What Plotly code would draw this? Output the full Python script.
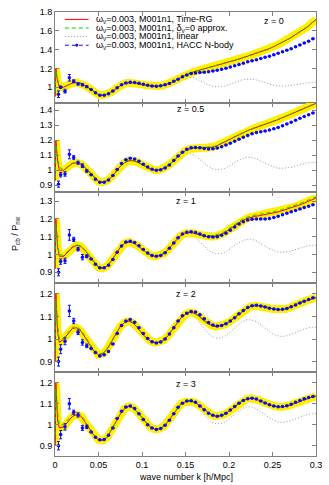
import plotly.graph_objects as go
from plotly.subplots import make_subplots

##========[ DATA ]========##
# k grid of the smooth curves [h/Mpc]
k_curve = [0.0003, 0.001, 0.003, 0.005, 0.01, 0.015, 0.02, 0.025, 0.03, 0.035, 0.04, 0.045,
           0.05, 0.055, 0.06, 0.065, 0.07, 0.075, 0.08, 0.085, 0.09, 0.095, 0.1, 0.105,
           0.11, 0.115, 0.12, 0.125, 0.13, 0.135, 0.14, 0.145, 0.15, 0.155, 0.16, 0.165,
           0.17, 0.175, 0.18, 0.185, 0.19, 0.195, 0.2, 0.205, 0.21, 0.215, 0.22, 0.225,
           0.23, 0.235, 0.24, 0.245, 0.25, 0.255, 0.26, 0.265, 0.27, 0.275, 0.28, 0.285,
           0.29, 0.295, 0.3]
k_linear = k_curve[3:]

# N-body bins
k_nbody = [0.004, 0.0065, 0.0115, 0.0165, 0.0215, 0.0265, 0.0315, 0.0365, 0.0415, 0.0465,
           0.0515, 0.0565, 0.0615, 0.0665, 0.0715, 0.0765, 0.0815, 0.0865, 0.0915, 0.0965,
           0.1015, 0.1065, 0.1115, 0.1165, 0.1215, 0.1265, 0.1315, 0.1365, 0.1415, 0.1465,
           0.1515, 0.1565, 0.1615, 0.1665, 0.1715, 0.1765, 0.1815, 0.1865, 0.1915, 0.1965,
           0.2015, 0.2065, 0.2115, 0.2165, 0.2215, 0.2265, 0.2315, 0.2365, 0.2415, 0.2465,
           0.2515, 0.2565, 0.2615, 0.2665, 0.2715, 0.2765, 0.2815, 0.2865, 0.2915, 0.2965]

redshifts = ["z = 0", "z = 0.5", "z = 1", "z = 2", "z = 3"]

linear = [1.0, 1.01, 1.035, 1.05, 1.05, 1.03, 1.0, 0.965, 0.935, 0.922, 0.93, 0.955, 0.99, 1.03,
          1.06, 1.08, 1.085, 1.075, 1.055, 1.03, 1.005, 0.99, 0.982, 0.982, 0.99, 1.01, 1.04,
          1.07, 1.095, 1.108, 1.11, 1.1, 1.08, 1.055, 1.03, 1.012, 1.005, 1.005, 1.012, 1.027,
          1.045, 1.063, 1.077, 1.085, 1.086, 1.08, 1.068, 1.052, 1.037, 1.024, 1.015, 1.012,
          1.013, 1.018, 1.026, 1.035, 1.043, 1.049, 1.052, 1.053]

timerg_z0 = [0.90, 1.20, 1.06, 1.00, 1.00, 1.025, 1.045, 1.05, 1.04, 1.015, 0.985, 0.95, 0.92,
             0.912, 0.925, 0.95, 0.985, 1.015, 1.037, 1.046, 1.046, 1.04, 1.03, 1.02, 1.012,
             1.01, 1.012, 1.02, 1.035, 1.055, 1.08, 1.105, 1.13, 1.15, 1.165, 1.178, 1.19, 1.2,
             1.21, 1.222, 1.235, 1.25, 1.265, 1.28, 1.295, 1.31, 1.325, 1.34, 1.355, 1.37, 1.386,
             1.405, 1.425, 1.447, 1.47, 1.495, 1.52, 1.55, 1.578, 1.61, 1.64, 1.68, 1.72]
timerg_z05 = [0.93, 1.20, 1.06, 1.0, 1.0, 1.025, 1.045, 1.05, 1.04, 1.015, 0.985, 0.95, 0.925,
              0.92, 0.93, 0.955, 0.99, 1.025, 1.05, 1.063, 1.063, 1.053, 1.037, 1.02, 1.006, 1.0,
              1.002, 1.012, 1.03, 1.055, 1.085, 1.11, 1.13, 1.142, 1.148, 1.15, 1.15, 1.15, 1.153,
              1.16, 1.175, 1.19, 1.205, 1.22, 1.235, 1.248, 1.26, 1.272, 1.282, 1.291, 1.30,
              1.311, 1.322, 1.334, 1.346, 1.358, 1.37, 1.382, 1.394, 1.406, 1.418, 1.431, 1.445]
timerg_z1 = [0.92, 1.20, 1.04, 0.99, 0.99, 1.015, 1.04, 1.052, 1.045, 1.02, 0.99, 0.955, 0.927,
             0.922, 0.935, 0.965, 1.005, 1.04, 1.063, 1.07, 1.065, 1.05, 1.03, 1.01, 0.995, 0.99,
             0.993, 1.005, 1.027, 1.055, 1.085, 1.108, 1.12, 1.123, 1.12, 1.112, 1.105, 1.1, 1.1,
             1.103, 1.11, 1.123, 1.14, 1.158, 1.175, 1.19, 1.202, 1.21, 1.215, 1.219, 1.223,
             1.227, 1.232, 1.238, 1.245, 1.252, 1.26, 1.268, 1.277, 1.286, 1.296, 1.307, 1.318]
timerg_z2 = [0.90, 1.20, 1.03, 0.985, 1.0, 1.025, 1.047, 1.05, 1.035, 1.005, 0.975, 0.945, 0.93,
             0.935, 0.955, 0.99, 1.025, 1.055, 1.073, 1.08, 1.07, 1.05, 1.025, 1.005, 0.99, 0.983,
             0.985, 0.995, 1.015, 1.04, 1.07, 1.095, 1.11, 1.118, 1.115, 1.103, 1.085, 1.07, 1.06,
             1.055, 1.058, 1.065, 1.075, 1.09, 1.105, 1.12, 1.135, 1.145, 1.148, 1.147, 1.143,
             1.138, 1.133, 1.13, 1.13, 1.133, 1.14, 1.15, 1.158, 1.165, 1.172, 1.178, 1.183]
timerg_z3 = [0.90, 1.20, 1.02, 0.985, 0.99, 1.015, 1.04, 1.048, 1.04, 1.01, 0.98, 0.948, 0.928,
             0.925, 0.94, 0.975, 1.015, 1.05, 1.077, 1.088, 1.08, 1.06, 1.035, 1.008, 0.988,
             0.978, 0.98, 0.993, 1.015, 1.045, 1.075, 1.1, 1.11, 1.113, 1.108, 1.095, 1.077, 1.06,
             1.047, 1.041, 1.042, 1.05, 1.063, 1.08, 1.097, 1.112, 1.122, 1.126, 1.124, 1.117,
             1.107, 1.097, 1.09, 1.086, 1.085, 1.087, 1.093, 1.101, 1.11, 1.118, 1.125, 1.131, 1.136]

approx_z0 = [0.95, 1.17, 1.08, 1.02, 1.0, 1.027, 1.047, 1.052, 1.042, 1.017, 0.987, 0.952, 0.922,
             0.914, 0.927, 0.952, 0.987, 1.017, 1.039, 1.048, 1.048, 1.042, 1.032, 1.022, 1.014,
             1.012, 1.014, 1.022, 1.037, 1.057, 1.082, 1.107, 1.132, 1.152, 1.167, 1.18, 1.192,
             1.202, 1.212, 1.224, 1.237, 1.252, 1.267, 1.282, 1.297, 1.312, 1.327, 1.342, 1.357,
             1.372, 1.388, 1.407, 1.427, 1.449, 1.472, 1.497, 1.522, 1.552, 1.58, 1.612, 1.642,
             1.682, 1.722]
approx_z05 = [0.95, 1.17, 1.08, 1.02, 1.002, 1.027, 1.047, 1.052, 1.042, 1.017, 0.987, 0.952,
              0.927, 0.922, 0.932, 0.957, 0.992, 1.027, 1.052, 1.065, 1.065, 1.055, 1.039, 1.022,
              1.008, 1.002, 1.004, 1.014, 1.032, 1.057, 1.087, 1.112, 1.132, 1.144, 1.15, 1.152,
              1.152, 1.152, 1.155, 1.162, 1.177, 1.192, 1.207, 1.222, 1.237, 1.25, 1.262, 1.274,
              1.284, 1.293, 1.302, 1.313, 1.324, 1.336, 1.348, 1.36, 1.372, 1.384, 1.396, 1.408,
              1.42, 1.433, 1.447]
approx_z1 = [0.95, 1.17, 1.06, 1.0, 0.995, 1.02, 1.045, 1.055, 1.048, 1.023, 0.993, 0.958, 0.93,
             0.925, 0.938, 0.968, 1.008, 1.043, 1.066, 1.073, 1.068, 1.053, 1.033, 1.013, 0.998,
             0.993, 0.996, 1.008, 1.03, 1.058, 1.088, 1.111, 1.123, 1.126, 1.124, 1.117, 1.11,
             1.106, 1.106, 1.11, 1.117, 1.13, 1.147, 1.165, 1.182, 1.197, 1.209, 1.217, 1.222,
             1.226, 1.23, 1.234, 1.239, 1.245, 1.252, 1.259, 1.267, 1.275, 1.284, 1.293, 1.303,
             1.314, 1.325]
approx_z2 = [0.95, 1.17, 1.06, 1.0, 1.005, 1.03, 1.052, 1.055, 1.04, 1.01, 0.978, 0.948, 0.933,
             0.938, 0.958, 0.993, 1.028, 1.058, 1.076, 1.083, 1.073, 1.053, 1.028, 1.008, 0.993,
             0.986, 0.988, 0.998, 1.018, 1.043, 1.073, 1.098, 1.113, 1.121, 1.118, 1.106, 1.088,
             1.073, 1.063, 1.058, 1.061, 1.068, 1.078, 1.093, 1.108, 1.123, 1.138, 1.148, 1.151,
             1.15, 1.146, 1.141, 1.136, 1.133, 1.133, 1.136, 1.143, 1.153, 1.161, 1.168, 1.175,
             1.181, 1.186]
approx_z3 = [0.95, 1.17, 1.06, 1.0, 1.0, 1.025, 1.05, 1.056, 1.046, 1.014, 0.983, 0.951, 0.93,
             0.927, 0.942, 0.977, 1.017, 1.052, 1.079, 1.09, 1.082, 1.062, 1.037, 1.01, 0.99,
             0.98, 0.982, 0.995, 1.017, 1.047, 1.077, 1.102, 1.112, 1.115, 1.11, 1.097, 1.079,
             1.062, 1.049, 1.043, 1.044, 1.052, 1.065, 1.082, 1.099, 1.114, 1.124, 1.128, 1.126,
             1.119, 1.109, 1.099, 1.092, 1.088, 1.087, 1.089, 1.095, 1.103, 1.112, 1.12, 1.127,
             1.133, 1.138]

nbody_z0 = [0.925, 1.0, 0.958, 1.10, 1.063, 1.035, 1.025, 1.005, 0.975, 0.94, 0.915, 0.915, 0.93,
            0.96, 0.995, 1.025, 1.045, 1.052, 1.05, 1.042, 1.03, 1.02, 1.013, 1.01, 1.015, 1.025,
            1.04, 1.062, 1.085, 1.11, 1.13, 1.145, 1.152, 1.157, 1.16, 1.165, 1.172, 1.18, 1.19,
            1.202, 1.215, 1.228, 1.242, 1.256, 1.27, 1.282, 1.293, 1.305, 1.318, 1.33, 1.344,
            1.36, 1.376, 1.393, 1.41, 1.43, 1.45, 1.47, 1.49, 1.515]
nbody_z05 = [0.907, 0.97, 0.975, 1.106, 1.085, 1.05, 1.03, 0.995, 0.97, 0.94, 0.92, 0.92, 0.935,
             0.965, 1.005, 1.045, 1.07, 1.08, 1.075, 1.06, 1.04, 1.022, 1.007, 1.0, 1.003, 1.015,
             1.035, 1.065, 1.095, 1.12, 1.14, 1.15, 1.152, 1.15, 1.145, 1.142, 1.143, 1.148,
             1.157, 1.168, 1.18, 1.193, 1.207, 1.22, 1.232, 1.243, 1.251, 1.257, 1.262, 1.268,
             1.276, 1.285, 1.296, 1.308, 1.32, 1.333, 1.346, 1.358, 1.37, 1.382]
nbody_z1 = [0.9, 0.96, 0.965, 1.11, 1.085, 1.03, 0.985, 0.99, 0.975, 0.945, 0.925, 0.925, 0.94,
            0.972, 1.013, 1.048, 1.07, 1.075, 1.068, 1.05, 1.028, 1.008, 0.995, 0.99, 0.995, 1.01,
            1.035, 1.065, 1.095, 1.115, 1.125, 1.128, 1.124, 1.115, 1.106, 1.1, 1.098, 1.1, 1.108,
            1.12, 1.137, 1.155, 1.172, 1.185, 1.194, 1.198, 1.2, 1.2, 1.2, 1.203, 1.208, 1.216,
            1.224, 1.232, 1.24, 1.248, 1.256, 1.264, 1.272, 1.28]
nbody_z2 = [0.90, 0.955, 0.99, 1.125, 1.08, 1.03, 0.985, 0.97, 0.958, 0.94, 0.925, 0.93, 0.945,
            0.978, 1.025, 1.06, 1.08, 1.087, 1.075, 1.05, 1.025, 1.003, 0.988, 0.983, 0.987, 1.0,
            1.022, 1.05, 1.08, 1.103, 1.115, 1.122, 1.12, 1.108, 1.09, 1.073, 1.062, 1.058, 1.06,
            1.068, 1.08, 1.095, 1.112, 1.127, 1.14, 1.148, 1.15, 1.147, 1.142, 1.137, 1.133,
            1.131, 1.132, 1.136, 1.143, 1.151, 1.16, 1.168, 1.176, 1.183]
nbody_z3 = [0.90, 0.953, 0.99, 1.10, 1.06, 1.047, 0.985, 0.99, 0.965, 0.94, 0.928, 0.93, 0.95,
            0.985, 1.03, 1.065, 1.085, 1.09, 1.078, 1.052, 1.025, 1.0, 0.985, 0.978, 0.982, 0.998,
            1.022, 1.053, 1.083, 1.103, 1.113, 1.115, 1.107, 1.09, 1.072, 1.055, 1.045, 1.041,
            1.045, 1.055, 1.07, 1.087, 1.103, 1.116, 1.124, 1.127, 1.123, 1.114, 1.104, 1.095,
            1.089, 1.086, 1.087, 1.091, 1.098, 1.107, 1.116, 1.124, 1.13, 1.135]

# error bars of the lowest N-body bins (the rest are smaller than the points)
nbody_err_z0 = [0.035, 0.01, 0.02, 0.035, 0.015, 0.01, 0.01, 0.008]
nbody_err_z05 = [0.02, 0.015, 0.015, 0.03, 0.012, 0.01, 0.012, 0.008]
nbody_err_z1 = [0.02, 0.015, 0.015, 0.03, 0.012, 0.01, 0.015, 0.008]
nbody_err_z2 = [0.02, 0.02, 0.015, 0.025, 0.012, 0.01, 0.012, 0.008]
nbody_err_z3 = [0.02, 0.02, 0.015, 0.025, 0.01, 0.01, 0.012, 0.008]

timerg = [timerg_z0, timerg_z05, timerg_z1, timerg_z2, timerg_z3]
approx = [approx_z0, approx_z05, approx_z1, approx_z2, approx_z3]
nbody = [nbody_z0, nbody_z05, nbody_z1, nbody_z2, nbody_z3]
nbody_err = [nbody_err_z0, nbody_err_z05, nbody_err_z1, nbody_err_z2, nbody_err_z3]

legend_labels = ["ω<sub>ν</sub>=0.003, M001n1, Time-RG",
                 "ω<sub>ν</sub>=0.003, M001n1, δ<sub>ν</sub>=0 approx.",
                 "ω<sub>ν</sub>=0.003, M001n1, linear",
                 "ω<sub>ν</sub>=0.003, M001n1, HACC N-body"]

##========[ STYLE ]========##
FONT = "Liberation Sans, Arial, sans-serif"
RED, GREEN, GRAY, BLUE, YELLOW = "#ff0000", "#00d000", "#999999", "#0a0aff", "#fff000"
FRAME = "#808080"

W, H = 329, 485
L, R, T, B = 55, 10, 7, 29
# panel pixel borders (top of each panel, then bottom of last)
borders = [7, 99, 189, 281, 371, 456]
yranges = [[0.832, 1.8], [0.855, 1.448], [0.84, 1.352], [0.854, 1.249], [0.851, 1.252]]
ydticks = [0.2, 0.1, 0.1, 0.1, 0.1]
zlabel_pos = [(277, 16), (192, 105), (187, 198), (187, 292), (187, 383)]


def px(x):  # pixel -> paper x
	return (x - L) / (W - L - R)


def py(y):  # pixel -> paper y
	return (borders[-1] - y) / (borders[-1] - borders[0])


fig = make_subplots(rows=5, cols=1, shared_xaxes=True, vertical_spacing=0)

for i in range(5):
	row = i + 1
	# linear theory
	fig.add_trace(go.Scatter(x=k_linear, y=linear, mode="lines",
	                         line=dict(color=GRAY, width=1, dash="1px,2px"), showlegend=False), row=row, col=1)
	# Time-RG error band
	fig.add_trace(go.Scatter(x=k_curve, y=timerg[i], mode="lines",
	                         line=dict(color=YELLOW, width=8), showlegend=False), row=row, col=1)
	fig.add_trace(go.Scatter(x=k_curve, y=timerg[i], mode="lines",
	                         line=dict(color=RED, width=1), showlegend=False), row=row, col=1)
	fig.add_trace(go.Scatter(x=k_curve, y=approx[i], mode="lines",
	                         line=dict(color=GREEN, width=1, dash="4px,3px"), showlegend=False), row=row, col=1)
	err = nbody_err[i] + [None] * (len(nbody[i]) - len(nbody_err[i]))
	fig.add_trace(go.Scatter(x=k_nbody, y=nbody[i], mode="markers",
	                         marker=dict(color=BLUE, size=3.5, symbol="circle"),
	                         error_y=dict(type="data", array=err, color=BLUE, thickness=1, width=1.5),
	                         showlegend=False), row=row, col=1)

	top, bot = borders[i], borders[i + 1]
	fig.update_yaxes(row=row, col=1, domain=[py(bot), py(top)], range=yranges[i],
	                 dtick=ydticks[i], tick0=0, ticks="inside", ticklen=4, tickcolor=FRAME,
	                 showline=True, linecolor=FRAME, linewidth=1, mirror="ticks",
	                 showgrid=False, zeroline=False,
	                 tickfont=dict(family=FONT, size=9, color="#000"))
	fig.update_xaxes(row=row, col=1, range=[0, 0.3], dtick=0.05, tick0=0,
	                 ticks="inside", ticklen=4, tickcolor=FRAME,
	                 showline=True, linecolor=FRAME, linewidth=1, mirror="ticks",
	                 showgrid=False, zeroline=False,
	                 tickfont=dict(family=FONT, size=9, color="#000"))

	zx, zy = zlabel_pos[i]
	fig.add_annotation(x=px(zx), y=py(zy), xref="paper", yref="paper", text=redshifts[i],
	                   showarrow=False, xanchor="center", yanchor="middle",
	                   font=dict(family=FONT, size=9, color="#000"))

# hand-made legend (gnuplot key is tighter than plotly's)
rows_y = [14.5, 23.2, 31.9, 40.6]
samples = [dict(color=RED, width=1), dict(color=GREEN, width=1, dash="4px,3px"),
           dict(color=GRAY, width=1, dash="1px,2px"), dict(color=BLUE, width=1, dash="4px,3px")]
for j in range(4):
	fig.add_shape(type="line", xref="paper", yref="paper", x0=px(65), x1=px(89),
	              y0=py(rows_y[j]), y1=py(rows_y[j]), line=samples[j])
	fig.add_annotation(x=px(95), y=py(rows_y[j]), xref="paper", yref="paper", text=legend_labels[j],
	                   showarrow=False, xanchor="left", yanchor="middle", borderpad=0,
	                   font=dict(family=FONT, size=9, color="#000"))
fig.add_shape(type="circle", xref="paper", yref="paper", x0=px(75.5), x1=px(78.5),
              y0=py(rows_y[3] + 1.5), y1=py(rows_y[3] - 1.5), fillcolor=BLUE, line=dict(width=0))

# axis titles
fig.add_annotation(x=px(187), y=py(477), xref="paper", yref="paper", text="wave number k [h/Mpc]",
                   showarrow=False, xanchor="center", yanchor="middle",
                   font=dict(family=FONT, size=9, color="#000"))
fig.add_annotation(x=px(15), y=py(231), xref="paper", yref="paper",
                   text="P<sub>cb</sub> / P<sub>nw</sub>", textangle=-90,
                   showarrow=False, xanchor="center", yanchor="middle",
                   font=dict(family=FONT, size=9, color="#000"))

fig.update_layout(width=W, height=H, margin=dict(l=L, r=R, t=T, b=B),
                  paper_bgcolor="white", plot_bgcolor="white", showlegend=False)

# page body margin would shift the fixed-size figure
fig.write_html("out.html", config={"displayModeBar": False},
               post_script="document.body.style.margin='0px';")
